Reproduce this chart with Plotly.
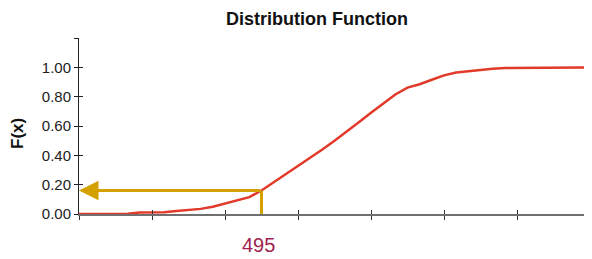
import plotly.graph_objects as go

# Data
x_vals = [420, 425, 430, 435, 440, 445, 450, 455, 460, 465, 470, 475, 480, 485, 490,
          495, 500, 505, 510, 515, 520, 525, 530, 535, 540, 545, 550, 555, 560, 565,
          570, 575, 580, 585, 590, 595, 600, 605, 610, 615, 620, 625, 630]
f_vals = [0.0, 0.0, 0.0, 0.0, 0.002, 0.01, 0.012, 0.012, 0.02, 0.027, 0.035, 0.05, 0.073, 0.092, 0.115,
          0.16, 0.215, 0.27, 0.325, 0.382, 0.44, 0.50, 0.56, 0.625, 0.69, 0.752, 0.815, 0.862, 0.885, 0.915,
          0.945, 0.965, 0.975, 0.982, 0.99, 0.995, 0.995, 1.0, 1.0, 1.0, 1.0, 1.0, 1.0]
marked_x = 495
marked_f = 0.16
y_tickvals = [0, 0.2, 0.4, 0.6, 0.8, 1.0, 1.2]
y_ticktext = ["0.00", "0.20", "0.40", "0.60", "0.80", "1.00", ""]
x_tickvals = [420, 450, 480, 510, 540, 570, 600, 630]

GOLD = "#d4a000"
RED = "#e23a2a"
FONT = "Liberation Sans, Arial, sans-serif"

fig = go.Figure()
fig.add_trace(go.Scatter(x=x_vals, y=f_vals, mode="lines",
                         line=dict(color=RED, width=2.5), showlegend=False, hoverinfo="skip"))
# invisible trace on overlaid axes to get crossing ticks
fig.add_trace(go.Scatter(x=[x_vals[0]], y=[0], xaxis="x2", yaxis="y2", mode="markers",
                         marker=dict(opacity=0), showlegend=False, hoverinfo="skip"))

# vertical marker line
fig.add_shape(type="line", x0=marked_x, x1=marked_x, y0=0, y1=marked_f,
              xref="x", yref="y", line=dict(color=GOLD, width=3))
# horizontal arrow to the y axis
fig.add_annotation(x=x_vals[0], y=marked_f, ax=marked_x, ay=marked_f,
                   xref="x", yref="y", axref="x", ayref="y",
                   text="", showarrow=True, arrowhead=2, arrowsize=1.3,
                   arrowwidth=3, arrowcolor=GOLD, standoff=0, startstandoff=0)
# value label
fig.add_annotation(x=marked_x, y=0, xref="x", yref="paper", text=str(marked_x),
                   showarrow=False, font=dict(family=FONT, size=20, color="#a01f4e"),
                   xshift=-3, yshift=-31, yanchor="middle")
# y axis title
fig.add_annotation(x=0, y=0.4545, xref="paper", yref="paper", text="<b>F(x)</b>",
                   textangle=-90, showarrow=False, xanchor="center", yanchor="middle",
                   xshift=-62, font=dict(family=FONT, size=17, color="#111"))
# chart title
fig.add_annotation(x=0.4658, y=1, xref="paper", yref="paper", text="<b>Distribution Function</b>",
                   showarrow=False, xanchor="center", yanchor="middle", yshift=19,
                   font=dict(family=FONT, size=18, color="#111"))

# the page body has an 8px margin, so the figure is sized to fit the 592x259 window
fig.update_layout(
    width=584, height=251,
    margin=dict(l=71, r=2, t=30, b=45, autoexpand=False),
    paper_bgcolor="white", plot_bgcolor="white",
    xaxis=dict(range=[420, 630], tickvals=x_tickvals, showticklabels=False,
               ticks="outside", ticklen=4, tickcolor="#333", tickwidth=1,
               showline=True, linecolor="#707070", linewidth=2, automargin=False,
               showgrid=False, zeroline=False),
    yaxis=dict(range=[0, 1.2], tickvals=y_tickvals, ticktext=y_ticktext,
               ticks="outside", ticklen=4, tickcolor="#222", tickwidth=1,
               showline=True, linecolor="#222", linewidth=1, automargin=False,
               showgrid=False, zeroline=False,
               tickfont=dict(family=FONT, size=15, color="#222")),
    xaxis2=dict(range=[420, 630], tickvals=x_tickvals, showticklabels=False,
                ticks="inside", ticklen=4, tickcolor="#333", tickwidth=1,
                overlaying="x", anchor="y2", showgrid=False, zeroline=False, showline=False),
    yaxis2=dict(range=[0, 1.2], tickvals=y_tickvals, showticklabels=False,
                ticks="inside", ticklen=4, tickcolor="#222", tickwidth=1,
                overlaying="y", anchor="x2", showgrid=False, zeroline=False, showline=False),
)

fig.write_html("out.html")
